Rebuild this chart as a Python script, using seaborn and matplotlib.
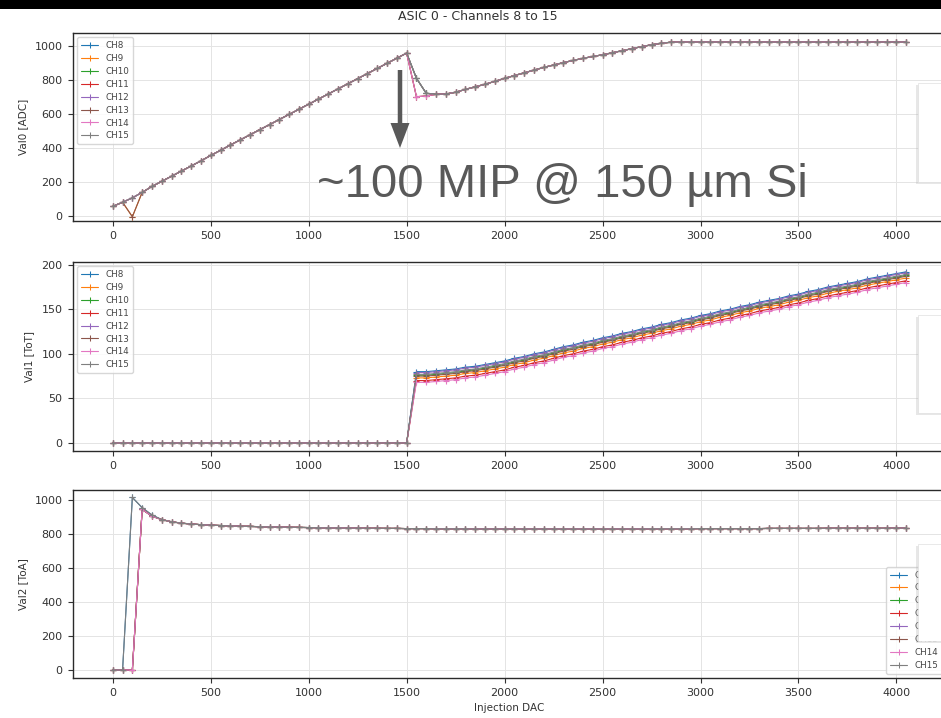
import numpy as np
import pandas as pd
import matplotlib
matplotlib.use("Agg")
import matplotlib.pyplot as plt
from matplotlib.patches import Rectangle, FancyArrow
import seaborn as sns

# ---------------- data ----------------
CHANNELS = ["CH8", "CH9", "CH10", "CH11", "CH12", "CH13", "CH14", "CH15"]

DAC = [0, 50, 100, 150, 200, 250, 300, 350, 400, 450, 500, 550, 600, 650, 700,
       750, 800, 850, 900, 950, 1000, 1050, 1100, 1150, 1200, 1250, 1300, 1350,
       1400, 1450, 1500, 1550, 1600, 1650, 1700, 1750, 1800, 1850, 1900, 1950,
       2000, 2050, 2100, 2150, 2200, 2250, 2300, 2350, 2400, 2450, 2500, 2550,
       2600, 2650, 2700, 2750, 2800, 2850, 2900, 2950, 3000, 3050, 3100, 3150,
       3200, 3250, 3300, 3350, 3400, 3450, 3500, 3550, 3600, 3650, 3700, 3750,
       3800, 3850, 3900, 3950, 4000, 4050]

# Val0 [ADC] common trend
VAL0_COMMON = [58, 82, 108, 140, 175, 205, 235, 265, 295, 325, 357, 387, 418,
               448, 478, 508, 538, 568, 598, 628, 658, 688, 718, 748, 778, 808,
               838, 868, 898, 928, 958,
               810, 722, 716, 718, 728, 745, 760, 775, 792, 810, 826, 842, 858,
               874, 888, 902, 915, 927, 938, 948, 960, 972, 984, 996, 1007, 1016,
               1022,
               1023, 1023, 1023, 1023, 1023, 1023, 1023, 1023, 1023, 1023, 1023,
               1023, 1023, 1023, 1023, 1023, 1023, 1023, 1023, 1023, 1023, 1023,
               1023, 1023]
VAL0_DIP_CHANNELS = ["CH9", "CH13"]
VAL0_DIP = {100: -3}
VAL0_DROP_CHANNELS = ["CH11", "CH13", "CH14"]
VAL0_DROP = {1550: 702, 1600: 706}

# Val1 [ToT] upper channel trend
VAL1_TOP = [0, 0, 0, 0, 0, 0, 0, 0, 0, 0, 0, 0, 0, 0, 0, 0, 0, 0, 0,
            0, 0, 0, 0, 0, 0, 0, 0, 0, 0, 0, 0,
            80, 80, 81, 82, 83, 85, 86, 88, 90, 92, 95, 97, 100, 102, 105, 108,
            110, 113, 115, 118, 120, 123, 125, 128, 130, 133, 135, 138, 140, 143,
            145, 148, 150, 153, 155, 158, 160, 162, 165, 167, 170, 172, 175, 177,
            179, 181, 184, 186, 188, 190, 192]
VAL1_OFFSET = [0, -7, -4, -10, -1, -5, -12, -3]

# Val2 [ToA] common trend
VAL2_COMMON = [0, 0, 0, 945, 905, 885, 872, 864, 859, 855, 852, 850, 848, 846,
               845, 843, 842, 841, 840, 839, 838, 837, 836, 836, 835, 835, 834,
               834, 833, 833, 832,
               832, 832, 831, 831, 831, 831, 830, 830, 830, 830, 830, 830, 830,
               830, 830, 830, 830, 830, 830, 830, 830, 830, 830, 830, 831, 831,
               831, 831, 831, 832, 832, 832, 832, 832, 832, 832, 833, 833, 833,
               833, 833, 833, 834, 834, 834, 834, 834, 834, 834, 835, 835]
VAL2_EARLY_CHANNELS = ["CH8", "CH15"]
VAL2_EARLY = {100: 1015, 150: 955, 200: 912}

# ---------------- build table ----------------
rows = []
for ci, ch in enumerate(CHANNELS):
    for i, d in enumerate(DAC):
        v0 = VAL0_COMMON[i]
        if ch in VAL0_DIP_CHANNELS and d in VAL0_DIP:
            v0 = VAL0_DIP[d]
        if ch in VAL0_DROP_CHANNELS and d in VAL0_DROP:
            v0 = VAL0_DROP[d]
        v1 = VAL1_TOP[i] + (VAL1_OFFSET[ci] if VAL1_TOP[i] > 0 else 0)
        v2 = VAL2_COMMON[i]
        if ch in VAL2_EARLY_CHANNELS and d in VAL2_EARLY:
            v2 = VAL2_EARLY[d]
        rows.append({"Channel": ch, "DAC": d, "Val0": v0, "Val1": v1, "Val2": v2})
df = pd.DataFrame(rows)

# ---------------- style ----------------
sns.set_theme(style="whitegrid")
plt.rcParams.update({
    "font.family": ["DejaVu Sans"],
    "axes.edgecolor": "#2a2a2a",
    "axes.linewidth": 1.0,
    "grid.color": "#e4e4e4",
    "grid.linewidth": 0.7,
    "xtick.bottom": True,
    "ytick.left": True,
    "xtick.major.size": 3.5,
    "ytick.major.size": 3.5,
    "xtick.major.width": 0.8,
    "ytick.major.width": 0.8,
    "xtick.major.pad": 4,
    "ytick.major.pad": 4,
    "xtick.color": "#333333",
    "ytick.color": "#333333",
    "xtick.labelsize": 8,
    "ytick.labelsize": 8,
})

palette = dict(zip(CHANNELS, sns.color_palette("tab10", 8)))

W, H = 941, 718
fig = plt.figure(figsize=(W / 100, H / 100), dpi=100)

def px_axes(left, top, right, bottom):
    return fig.add_axes([left / W, 1 - bottom / H, (right - left) / W, (bottom - top) / H])

panels = [
    ("Val0", "Val0 [ADC]", (73, 33, 946, 221), (-28, 1076), [0, 200, 400, 600, 800, 1000], "upper left"),
    ("Val1", "Val1 [ToT]", (73, 262, 946, 451), (-9, 203), [0, 50, 100, 150, 200], "upper left"),
    ("Val2", "Val2 [ToA]", (73, 490, 946, 678), (-47, 1059), [0, 200, 400, 600, 800, 1000], "lower right"),
]

for k, (col, ylabel, box, ylim, yticks, loc) in enumerate(panels):
    ax = px_axes(*box)
    sns.lineplot(data=df, x="DAC", y=col, hue="Channel", palette=palette,
                 marker="+", markersize=3.8, linewidth=0.8, ax=ax, legend=True)
    for line in ax.lines:
        line.set_markeredgecolor(line.get_color())
        line.set_markeredgewidth(0.8)
    ax.set_xlim(-203, 4253)
    ax.set_ylim(*ylim)
    ax.set_xticks([0, 500, 1000, 1500, 2000, 2500, 3000, 3500, 4000])
    ax.set_yticks(yticks)
    ax.set_ylabel(ylabel, fontsize=7.5, color="#333333", labelpad=5)
    ax.set_xlabel("Injection DAC" if k == 2 else "", fontsize=7.5, color="#333333", labelpad=3)
    for s in ax.spines.values():
        s.set_visible(True)
    sns.move_legend(ax, loc, title=None, fontsize=6.3, frameon=True,
                    framealpha=0.85, edgecolor="#d0d0d0", borderpad=0.4,
                    labelspacing=0.45)
    leg = ax.get_legend()
    for h in leg.legend_handles:
        try:
            h.set_marker("+")
            h.set_markeredgecolor(h.get_color())
            h.set_markersize(4.5)
            h.set_linewidth(0.8)
        except Exception:
            pass
    for t in leg.get_texts():
        t.set_color("#444444")

fig.text(478 / W, 1 - 16 / H, "ASIC 0 - Channels 8 to 15", ha="center",
         va="center", fontsize=9, color="#333333")

# ---------------- overlays from the slide ----------------
inch = fig.dpi_scale_trans
# black band at top of screenshot
fig.add_artist(Rectangle((0, (H - 9) / 100), W / 100, 0.12, transform=inch,
                         facecolor="black", edgecolor="none", zorder=10))
# annotation arrow + text
fig.add_artist(FancyArrow(4.00, (H - 70) / 100, 0, -(148 - 70) / 100,
                          width=0.045, head_width=0.19, head_length=0.25,
                          length_includes_head=True, transform=inch,
                          facecolor="#595959", edgecolor="none", zorder=10))
fig.text(317 / W, 1 - 197 / H, "~100 MIP @ 150 µm Si", ha="left", va="baseline",
         fontsize=34, color="#595959", family=["Liberation Sans", "DejaVu Sans"],
         zorder=10)
# white boxes at right edge
for top, bot in [(83, 182), (315, 413), (544, 641)]:
    fig.add_artist(Rectangle((916.5 / 100, (H - bot - 2) / 100), 0.4, (bot - top) / 100,
                             transform=inch, facecolor="#b0b0b0", edgecolor="none",
                             alpha=0.3, zorder=9))
    fig.add_artist(Rectangle((918 / 100, (H - bot) / 100), 0.4, (bot - top) / 100,
                             transform=inch, facecolor="white", edgecolor="#e0e0e0",
                             linewidth=0.5, zorder=10))

fig.savefig("out.png", dpi=100)
